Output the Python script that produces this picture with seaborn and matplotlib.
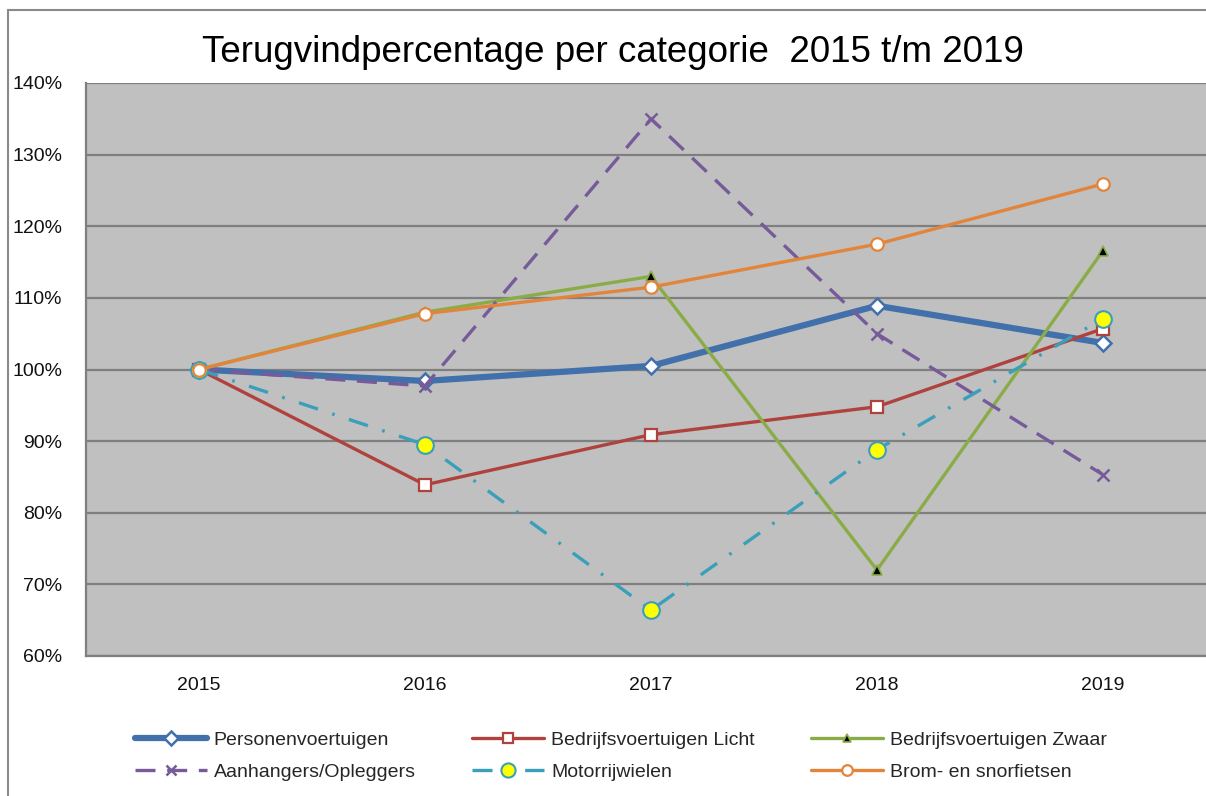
import numpy as np
import pandas as pd
import matplotlib
matplotlib.use("Agg")
import matplotlib.pyplot as plt
from matplotlib.patches import Rectangle
from matplotlib.ticker import PercentFormatter
import seaborn as sns

years = [2015, 2016, 2017, 2018, 2019]
personen = [100.0, 98.4, 100.5, 108.9, 103.7]
licht = [100.0, 83.9, 90.9, 94.8, 105.7]
zwaar = [100.0, 108.0, 113.0, 72.0, 116.6]
aanhangers = [100.0, 97.7, 135.0, 105.0, 85.3]
motor = [100.0, 89.5, 66.4, 88.8, 107.1]
brom = [100.0, 107.8, 111.5, 117.5, 125.9]

names = ["Personenvoertuigen", "Bedrijfsvoertuigen Licht", "Bedrijfsvoertuigen Zwaar",
         "Aanhangers/Opleggers", "Motorrijwielen", "Brom- en snorfietsen"]
values = [personen, licht, zwaar, aanhangers, motor, brom]

sns.set_style("white")
plt.rcParams['font.family'] = ['Liberation Sans', 'DejaVu Sans']

fig = plt.figure(figsize=(12.06, 7.96), dpi=100)
W, H = 1206, 796
ax = fig.add_axes([86 / W, 140 / H, 1130 / W, 573 / H])
ax.set_facecolor("#c0c0c0")

# outer chart frame
fig.patches.append(Rectangle((8 / W, -0.1), 1.2, (786 / H) + 0.1, transform=fig.transFigure,
                             fill=False, edgecolor="#8a8a8a", linewidth=1.5, zorder=0))

styles = [
    dict(color="#4170ab", lw=4.5, ls="-", marker="D", ms=8, mfc="white", mec="#4170ab", mew=1.8),
    dict(color="#b0423e", lw=2.4, ls="-", marker="s", ms=9, mfc="white", mec="#b0423e", mew=1.6),
    dict(color="#8aac47", lw=2.4, ls="-", marker="^", ms=7, mfc="black", mec="#8aac47", mew=1.2),
    dict(color="#765a9a", lw=2.4, ls=(0, (6, 3.5)), marker="x", ms=9, mfc="#765a9a", mec="#765a9a", mew=1.8),
    dict(color="#3a9fba", lw=2.4, ls=(0, (6, 4.5, 0.8, 4.5)), marker="o", ms=12, mfc="#ffff00", mec="#3a9fba", mew=1.5),
    dict(color="#e3843b", lw=2.4, ls="-", marker="o", ms=9, mfc="white", mec="#e3843b", mew=1.6),
]

df = pd.DataFrame({"jaar": years})
for name, vals, st in zip(names, values, styles):
    df[name] = vals
    sns.lineplot(data=df, x="jaar", y=name, ax=ax, label=name,
                 color=st["color"], linewidth=st["lw"], linestyle=st["ls"],
                 marker=st["marker"], markersize=st["ms"], markerfacecolor=st["mfc"],
                 markeredgecolor=st["mec"], markeredgewidth=st["mew"], clip_on=False)

ax.set_xlim(2014.5, 2019.5)
ax.set_ylim(60, 140)
ax.set_yticks(np.arange(60, 141, 10))
ax.set_xticks(years)
ax.set_xticklabels([str(y) for y in years])
ax.yaxis.set_major_formatter(PercentFormatter(xmax=100, decimals=0))
ax.grid(axis="y", color="#7f7f7f", linewidth=1.6)
ax.set_axisbelow(True)
ax.tick_params(axis="both", length=0, labelsize=14, colors="#111111")
ax.tick_params(axis="y", pad=17)
ax.tick_params(axis="x", pad=15)
ax.set_xlabel("")
ax.set_ylabel("")
for side in ["top", "right"]:
    ax.spines[side].set_visible(False)
for side in ["left", "bottom"]:
    ax.spines[side].set_color("#7f7f7f")
    ax.spines[side].set_linewidth(1.6)

ax.get_legend().remove()
handles, labels = ax.get_legend_handles_labels()
# matplotlib fills legend columns top-down, reorder so rows read left to right
order = [0, 3, 1, 4, 2, 5]
fig.legend([handles[i] for i in order], [labels[i] for i in order],
           loc="upper left", bbox_to_anchor=(135 / W, 1 - 731 / H), ncol=3,
           frameon=False, fontsize=14, handlelength=3.7, handletextpad=0.35,
           columnspacing=2.9, borderpad=0, labelspacing=0.75, borderaxespad=0,
           markerscale=0.85)

fig.text(613 / W, 1 - 53 / H, "Terugvindpercentage per categorie  2015 t/m 2019",
         ha="center", va="center", fontsize=26.5, color="#000000")

fig.savefig("out.png", dpi=100)
